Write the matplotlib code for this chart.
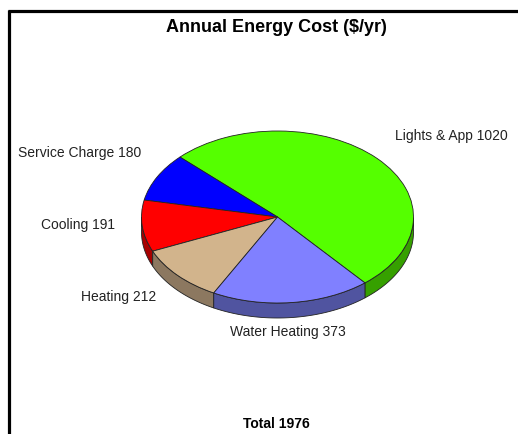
import numpy as np
import matplotlib
matplotlib.use("Agg")
import matplotlib.pyplot as plt

plt.rcParams['font.family'] = ['Liberation Sans', 'DejaVu Sans']

# -----------------------------
# Data
# -----------------------------
categories = ["Lights & App", "Service Charge", "Cooling", "Heating", "Water Heating"]
costs = [1020, 180, 191, 212, 373]
total = 1976

top_colors = ["#55FF00", "#0000FF", "#FF0000", "#D2B48C", "#8080FF"]
side_colors = ["#36A000", "#0000A0", "#A80000", "#8C7860", "#5054A0"]

# -----------------------------
# Layout (pixels)
# -----------------------------
W, H = 518, 434
CX, CY = 277.5, 217
RX, RY = 136, 86
DEPTH = 15 / RY
START = -50

label_pos = [(395, 136), (18, 153), (41, 225), (81, 297), (230, 332)]

fig = plt.figure(figsize=(W / 100, H / 100), dpi=100, facecolor="white")
ax = fig.add_axes([0, 0, 1, 1])

# -----------------------------
# Pie top
# -----------------------------
wedges, _ = ax.pie(
    costs,
    colors=top_colors,
    startangle=START,
    counterclock=True,
    wedgeprops=dict(edgecolor="#222222", linewidth=0.6, zorder=3),
)

ax.set_aspect("auto")
ax.set_xlim(-CX / RX, (W - CX) / RX)
ax.set_ylim(-(H - CY) / RY, CY / RY)
ax.axis("off")

# -----------------------------
# Side wall of the front half
# -----------------------------
for w, col in zip(wedges, side_colors):
    t = np.radians(np.linspace(w.theta1, w.theta2, 200))
    # only the part facing the viewer
    t = t[np.sin(t) <= 1e-9]
    if len(t) < 2:
        continue
    x = np.cos(t)
    y = np.sin(t)
    ax.fill(
        np.r_[x, x[::-1]],
        np.r_[y, y[::-1] - DEPTH],
        facecolor=col,
        edgecolor="#222222",
        linewidth=0.6,
        zorder=2,
    )

# -----------------------------
# Text
# -----------------------------
def put(px, py, s, **kw):
    fig.text(px / W, 1 - py / H, s, va="center", color="#222222", **kw)

for (px, py), name, cost in zip(label_pos, categories, costs):
    put(px, py, f"{name} {cost}", fontsize=10)

fig.text(276.5 / W, 1 - 27 / H, "Annual Energy Cost ($/yr)",
         ha="center", va="center", fontsize=13, color="black", fontweight="bold")
fig.text(276.5 / W, 1 - 424 / H, f"Total {total}",
         ha="center", va="center", fontsize=10, color="black", fontweight="bold")

# -----------------------------
# Frame
# -----------------------------
fig.add_artist(plt.Line2D([7.5 / W, 1], [1 - 11 / H, 1 - 11 / H], color="black",
                          lw=2.3, solid_capstyle="butt"))
fig.add_artist(plt.Line2D([9 / W, 9 / W], [0, 1 - 10 / H], color="black",
                          lw=2.3, solid_capstyle="butt"))

fig.savefig("out.png", dpi=100)
